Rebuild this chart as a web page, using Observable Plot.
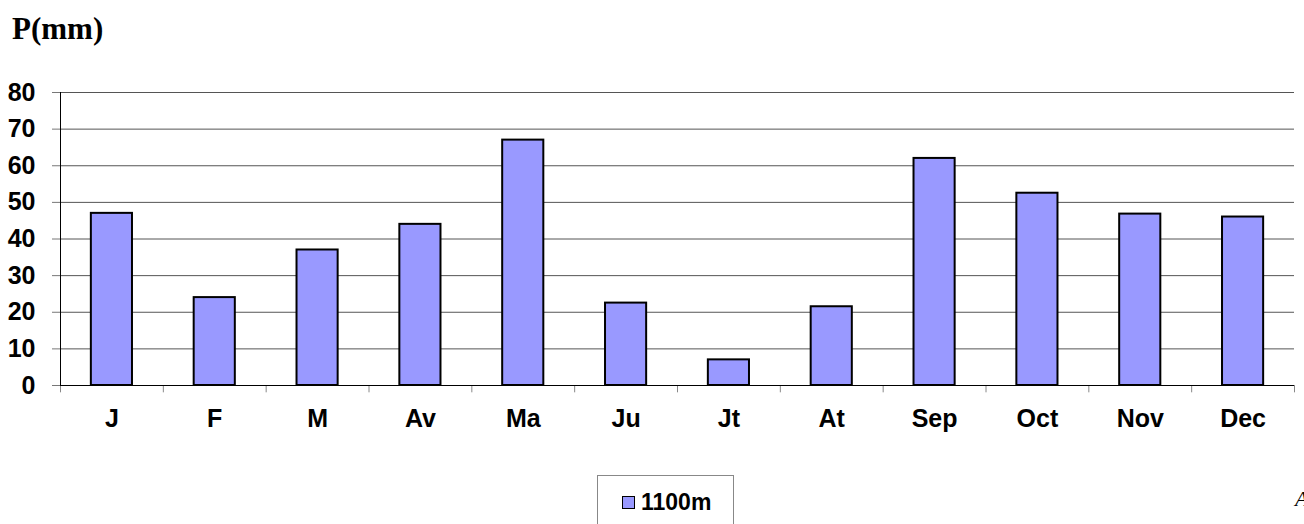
<!DOCTYPE html>
<html>
<head>
<meta charset="utf-8">
<script src="https://cdn.jsdelivr.net/npm/d3@7"></script>
<script src="https://cdn.jsdelivr.net/npm/@observablehq/plot@0.6"></script>
<style>
  html, body { margin: 0; padding: 0; background: #fff; }
  #wrap { position: relative; width: 1304px; height: 524px; overflow: hidden; background: #fff; }
  #chart { position: absolute; left: 0; top: 0; }
  #title { position: absolute; left: 12px; top: 11px; font-family: "Liberation Serif", "Times New Roman", serif; font-weight: bold; font-size: 31px; line-height: 35px; color: #000; }
  #legend { position: absolute; left: 597px; top: 475px; width: 137px; height: 60px; border: 1px solid #888; box-sizing: border-box; font-family: "Liberation Sans", Arial, sans-serif; font-weight: bold; font-size: 23px; color: #000; }
  #legend .sw { position: absolute; left: 24px; top: 20px; width: 13px; height: 13px; background: #9999ff; border: 1.5px solid #000; box-sizing: border-box; }
  #legend .lab { position: absolute; left: 43px; top: 13px; line-height: 26px; }
  #corner { position: absolute; left: 1295px; top: 486px; font-family: "Liberation Serif", serif; font-style: italic; font-size: 22px; color: #000; }
</style>
</head>
<body>
<div id="wrap">
  <div id="chart"></div>
  <div id="title">P(mm)</div>
  <div id="legend"><div class="sw"></div><div class="lab"></div></div>
  <div id="corner">A</div>
</div>
<script>
const months = ["J","F","M","Av","Ma","Ju","Jt","At","Sep","Oct","Nov","Dec"];
const precip = [47, 24, 37, 44, 67, 22.5, 7, 21.5, 62, 52.5, 46.8, 46];
const yTicks = [0, 10, 20, 30, 40, 50, 60, 70, 80];
const seriesName = "1100m";
const barColor = "#9999ff";

const data = months.map((m, i) => ({m, v: precip[i]}));

const W = 1304, mL = 60, mR = 10;
const step = (W - mL - mR) / months.length;

const chart = Plot.plot({
  width: W,
  height: 440,
  marginTop: 92,
  marginBottom: 55,
  marginLeft: mL,
  marginRight: mR,
  style: {fontFamily: "'Liberation Sans', Arial, sans-serif", background: "white", overflow: "visible"},
  x: {domain: months, paddingInner: 0.6, paddingOuter: 0.3, round: false, axis: null, label: null},
  y: {domain: [0, 80], axis: null, label: null},
  marks: [
    Plot.gridY(yTicks, {stroke: "#555", strokeOpacity: 1, strokeWidth: 1}),
    Plot.axisY(yTicks, {label: null, tickSize: 8, tickPadding: 17, fontSize: 25, fontWeight: "bold", stroke: "#777", fill: "#000", tickFormat: d => String(d)}),
    Plot.ruleX(months, {x: d => d, y1: 0, y2: -2, dx: -step / 2, stroke: "#888"}),
    Plot.ruleX([months[months.length - 1]], {x: d => d, y1: 0, y2: -2, dx: step / 2, stroke: "#888"}),
    Plot.ruleX([months[0]], {x: d => d, y1: 0, y2: 80, dx: -step / 2, stroke: "#000"}),
    Plot.barY(data, {x: "m", y: "v", fill: barColor, stroke: "#000", strokeWidth: 2}),
    Plot.ruleY([0], {stroke: "#000"}),
    Plot.axisX(months, {label: null, tickSize: 0, tickPadding: 24, fontSize: 25, fontWeight: "bold", fill: "#000"})
  ]
});
document.getElementById("chart").appendChild(chart);
document.querySelector("#legend .lab").textContent = seriesName;
document.querySelector("#legend .sw").style.background = barColor;
</script>
</body>
</html>
